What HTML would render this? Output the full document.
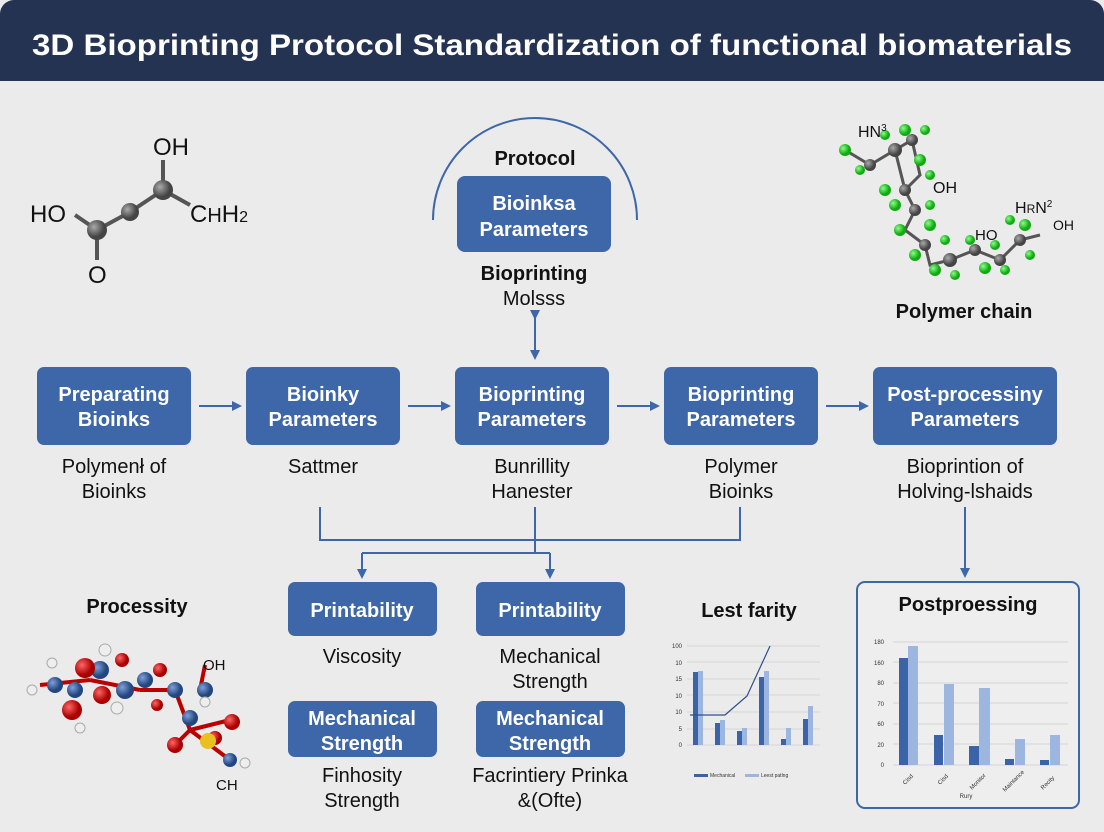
<!DOCTYPE html>
<html><head><meta charset="utf-8"><style>
html,body{margin:0;padding:0;background:#ebebeb}
svg{display:block}
text{font-family:"Liberation Sans",sans-serif}
</style></head><body>
<svg width="1104" height="832" viewBox="0 0 1104 832" xmlns="http://www.w3.org/2000/svg">
<defs>
<marker id="ar" markerWidth="10" markerHeight="10" refX="8" refY="5" orient="auto" markerUnits="userSpaceOnUse"><path d="M0,0 L10,5 L0,10 z" fill="#3d67a8"/></marker>
<radialGradient id="gg" cx="35%" cy="35%"><stop offset="0" stop-color="#aaa"/><stop offset="1" stop-color="#444"/></radialGradient>
<radialGradient id="gr" cx="35%" cy="35%"><stop offset="0" stop-color="#f66"/><stop offset="1" stop-color="#a00"/></radialGradient>
<radialGradient id="gb" cx="35%" cy="35%"><stop offset="0" stop-color="#7fa0d8"/><stop offset="1" stop-color="#23467f"/></radialGradient>
<radialGradient id="gn" cx="35%" cy="35%"><stop offset="0" stop-color="#8f8"/><stop offset="1" stop-color="#1a1"/></radialGradient>
</defs>
<rect width="1104" height="832" fill="#ebebeb"/>
<rect x="0" y="0" width="1104" height="81" rx="14" fill="#243352"/>
<rect x="0" y="40" width="1104" height="41" fill="#243352"/>
<text x="552" y="55" text-anchor="middle" font-size="30" font-weight="bold" fill="#fff" textLength="1040" lengthAdjust="spacingAndGlyphs">3D Bioprinting Protocol Standardization of functional biomaterials</text>

<!-- left molecule -->
<g stroke="#555" stroke-width="4">
<line x1="97" y1="230" x2="130" y2="212"/><line x1="130" y1="212" x2="163" y2="190"/>
<line x1="163" y1="190" x2="190" y2="205"/>
<line x1="97" y1="230" x2="97" y2="260"/><line x1="163" y1="190" x2="163" y2="160"/>
<line x1="97" y1="230" x2="75" y2="215"/>
</g>
<circle cx="97" cy="230" r="10" fill="url(#gg)"/><circle cx="130" cy="212" r="9" fill="url(#gg)"/><circle cx="163" cy="190" r="10" fill="url(#gg)"/>
<text x="153" y="155" font-size="24" fill="#111">OH</text>
<text x="30" y="222" font-size="24" fill="#111">HO</text>
<text x="88" y="283" font-size="24" fill="#111">O</text>
<text x="190" y="222" font-size="24" fill="#111">C<tspan font-size="20">H</tspan>H<tspan font-size="16">2</tspan></text>

<!-- protocol arc -->
<path d="M433,220 A102,102 0 0 1 637,220" fill="none" stroke="#3d67a8" stroke-width="2"/>
<text x="535" y="165" text-anchor="middle" font-size="20" font-weight="bold" fill="#111">Protocol</text>
<rect x="457" y="176" width="154" height="76" rx="8" fill="#3d67a8"/>
<text x="534" y="210" text-anchor="middle" font-size="20" font-weight="bold" fill="#fff">Bioinksa</text>
<text x="534" y="236" text-anchor="middle" font-size="20" font-weight="bold" fill="#fff">Parameters</text>
<text x="534" y="280" text-anchor="middle" font-size="20" font-weight="bold" fill="#111">Bioprinting</text>
<text x="534" y="305" text-anchor="middle" font-size="20" fill="#111">Molsss</text>
<line x1="535" y1="318" x2="535" y2="358" stroke="#3d67a8" stroke-width="2" marker-end="url(#ar)" marker-start="url(#ar)"/>

<!-- right molecule -->
<g stroke="#555" stroke-width="3" fill="none">
<path d="M845,150 L870,165 L895,150 L912,140 L920,175 L905,190 L915,210 L905,230 L925,245 L930,265 L950,260 L975,250 L1000,260 L1020,240 L1040,235"/>
<path d="M895,150 L905,190"/>
</g>
<g fill="url(#gn)">
<circle cx="845" cy="150" r="6"/><circle cx="860" cy="170" r="5"/><circle cx="885" cy="135" r="5"/><circle cx="905" cy="130" r="6"/><circle cx="925" cy="130" r="5"/><circle cx="920" cy="160" r="6"/><circle cx="930" cy="175" r="5"/><circle cx="885" cy="190" r="6"/><circle cx="895" cy="205" r="6"/><circle cx="930" cy="205" r="5"/><circle cx="900" cy="230" r="6"/><circle cx="930" cy="225" r="6"/><circle cx="915" cy="255" r="6"/><circle cx="945" cy="240" r="5"/><circle cx="935" cy="270" r="6"/><circle cx="955" cy="275" r="5"/><circle cx="970" cy="240" r="5"/><circle cx="985" cy="268" r="6"/><circle cx="1005" cy="270" r="5"/><circle cx="995" cy="245" r="5"/><circle cx="1025" cy="225" r="6"/><circle cx="1030" cy="255" r="5"/><circle cx="1010" cy="220" r="5"/>
</g>
<g fill="url(#gg)">
<circle cx="870" cy="165" r="6"/><circle cx="895" cy="150" r="7"/><circle cx="912" cy="140" r="6"/><circle cx="905" cy="190" r="6"/><circle cx="915" cy="210" r="6"/><circle cx="925" cy="245" r="6"/><circle cx="950" cy="260" r="7"/><circle cx="975" cy="250" r="6"/><circle cx="1000" cy="260" r="6"/><circle cx="1020" cy="240" r="6"/>
</g>
<text x="858" y="137" font-size="16" fill="#111">HN<tspan font-size="10" dy="-6">3</tspan></text>
<text x="933" y="193" font-size="16" fill="#111">OH</text>
<text x="1015" y="213" font-size="16" fill="#111">H<tspan font-size="12">R</tspan>N<tspan font-size="10" dy="-6">2</tspan></text>
<text x="975" y="240" font-size="15" fill="#111">HO</text>
<text x="1053" y="230" font-size="14" fill="#111">OH</text>
<text x="964" y="318" text-anchor="middle" font-size="20" font-weight="bold" fill="#111">Polymer chain</text>

<!-- main row -->
<g fill="#3d67a8">
<rect x="37" y="367" width="154" height="78" rx="7"/>
<rect x="246" y="367" width="154" height="78" rx="7"/>
<rect x="455" y="367" width="154" height="78" rx="7"/>
<rect x="664" y="367" width="154" height="78" rx="7"/>
<rect x="873" y="367" width="184" height="78" rx="7"/>
</g>
<g font-size="20" font-weight="bold" fill="#fff" text-anchor="middle">
<text x="114" y="401">Preparating</text><text x="114" y="426">Bioinks</text>
<text x="323" y="401">Bioinky</text><text x="323" y="426">Parameters</text>
<text x="532" y="401">Bioprinting</text><text x="532" y="426">Parameters</text>
<text x="741" y="401">Bioprinting</text><text x="741" y="426">Parameters</text>
<text x="965" y="401">Post-processiny</text><text x="965" y="426">Parameters</text>
</g>
<g font-size="20" fill="#111" text-anchor="middle">
<text x="114" y="473">Polymenł of</text><text x="114" y="498">Bioinks</text>
<text x="323" y="473">Sattmer</text>
<text x="532" y="473">Bunrillity</text><text x="532" y="498">Hanester</text>
<text x="741" y="473">Polymer</text><text x="741" y="498">Bioinks</text>
<text x="965" y="473">Bioprintion of</text><text x="965" y="498">Holving-lshaids</text>
</g>
<g stroke="#3d67a8" stroke-width="2">
<line x1="199" y1="406" x2="240" y2="406" marker-end="url(#ar)"/>
<line x1="408" y1="406" x2="449" y2="406" marker-end="url(#ar)"/>
<line x1="617" y1="406" x2="658" y2="406" marker-end="url(#ar)"/>
<line x1="826" y1="406" x2="867" y2="406" marker-end="url(#ar)"/>
<polyline points="320,507 320,540 740,540 740,507" fill="none"/>
<line x1="535" y1="507" x2="535" y2="553"/>
<line x1="362" y1="553" x2="550" y2="553"/>
<line x1="362" y1="553" x2="362" y2="577" marker-end="url(#ar)"/>
<line x1="550" y1="553" x2="550" y2="577" marker-end="url(#ar)"/>
<line x1="965" y1="507" x2="965" y2="576" marker-end="url(#ar)"/>
</g>

<!-- second row -->
<g fill="#3d67a8">
<rect x="288" y="582" width="149" height="54" rx="7"/>
<rect x="476" y="582" width="149" height="54" rx="7"/>
<rect x="288" y="701" width="149" height="56" rx="7"/>
<rect x="476" y="701" width="149" height="56" rx="7"/>
</g>
<g font-size="20" font-weight="bold" fill="#fff" text-anchor="middle">
<text x="362" y="617">Printability</text><text x="550" y="617">Printability</text>
<text x="362" y="725">Mechanical</text><text x="362" y="750">Strength</text>
<text x="550" y="725">Mechanical</text><text x="550" y="750">Strength</text>
</g>
<g font-size="20" fill="#111" text-anchor="middle">
<text x="362" y="663">Viscosity</text>
<text x="550" y="663">Mechanical</text><text x="550" y="688">Strength</text>
<text x="362" y="782">Finhosity</text><text x="362" y="807">Strength</text>
<text x="550" y="782">Facrintiery Prinka</text><text x="550" y="807">&amp;(Ofte)</text>
</g>

<!-- bottom left molecule -->
<text x="137" y="613" text-anchor="middle" font-size="20" font-weight="bold" fill="#111">Processity</text>
<g stroke="#b00" stroke-width="4">
<line x1="40" y1="685" x2="90" y2="680"/><line x1="90" y1="680" x2="140" y2="690"/><line x1="140" y1="690" x2="175" y2="690"/><line x1="175" y1="690" x2="190" y2="730"/><line x1="190" y1="730" x2="175" y2="745"/><line x1="190" y1="730" x2="230" y2="720"/><line x1="190" y1="730" x2="230" y2="760"/><line x1="200" y1="690" x2="205" y2="665"/>
</g>
<g fill="url(#gb)">
<circle cx="55" cy="685" r="8"/><circle cx="75" cy="690" r="8"/><circle cx="100" cy="670" r="9"/><circle cx="125" cy="690" r="9"/><circle cx="145" cy="680" r="8"/><circle cx="175" cy="690" r="8"/><circle cx="205" cy="690" r="8"/><circle cx="190" cy="718" r="8"/><circle cx="230" cy="760" r="7"/>
</g>
<g fill="url(#gr)">
<circle cx="85" cy="668" r="10"/><circle cx="72" cy="710" r="10"/><circle cx="122" cy="660" r="7"/><circle cx="102" cy="695" r="9"/><circle cx="160" cy="670" r="7"/><circle cx="157" cy="705" r="6"/><circle cx="175" cy="745" r="8"/><circle cx="232" cy="722" r="8"/><circle cx="215" cy="738" r="7"/>
</g>
<g fill="#eee" stroke="#aaa">
<circle cx="32" cy="690" r="5"/><circle cx="52" cy="663" r="5"/><circle cx="105" cy="650" r="6"/><circle cx="117" cy="708" r="6"/><circle cx="80" cy="728" r="5"/><circle cx="205" cy="702" r="5"/><circle cx="245" cy="763" r="5"/>
</g>
<circle cx="208" cy="741" r="8" fill="#e8c020"/>
<text x="203" y="670" font-size="15" fill="#111">OH</text>
<text x="216" y="790" font-size="15" fill="#111">CH</text>

<!-- chart 1 -->
<text x="749" y="617" text-anchor="middle" font-size="20" font-weight="bold" fill="#111">Lest farity</text>
<g stroke="#d4d4d4" stroke-width="1">
<line x1="687" y1="646" x2="820" y2="646"/><line x1="687" y1="662" x2="820" y2="662"/><line x1="687" y1="679" x2="820" y2="679"/><line x1="687" y1="695" x2="820" y2="695"/><line x1="687" y1="712" x2="820" y2="712"/><line x1="687" y1="729" x2="820" y2="729"/><line x1="687" y1="745" x2="820" y2="745"/>
</g>
<g font-size="6" fill="#333" text-anchor="end"><text x="682" y="648">100</text><text x="682" y="665">10</text><text x="682" y="681">15</text><text x="682" y="698">10</text><text x="682" y="714">10</text><text x="682" y="731">5</text><text x="682" y="747">0</text></g>
<g fill="#3a63a8"><rect x="693" y="672" width="5" height="73"/><rect x="715" y="723" width="5" height="22"/><rect x="737" y="731" width="5" height="14"/><rect x="759" y="677" width="5" height="68"/><rect x="781" y="739" width="5" height="6"/><rect x="803" y="719" width="5" height="26"/></g>
<g fill="#9db6e0"><rect x="698" y="671" width="5" height="74"/><rect x="720" y="720" width="5" height="25"/><rect x="742" y="728" width="5" height="17"/><rect x="764" y="671" width="5" height="74"/><rect x="786" y="728" width="5" height="17"/><rect x="808" y="706" width="5" height="39"/></g>
<polyline points="690,715 725,715 747,696 770,646" fill="none" stroke="#2e4f8a" stroke-width="1.2"/>
<rect x="694" y="774" width="14" height="3" fill="#3a63a8"/><text x="710" y="777" font-size="5" fill="#333">Mechanical</text>
<rect x="745" y="774" width="14" height="3" fill="#9db6e0"/><text x="761" y="777" font-size="5" fill="#333">Leest patlng</text>

<!-- postprocessing panel -->
<rect x="857" y="582" width="222" height="226" rx="8" fill="#eeeeee" stroke="#3d67a8" stroke-width="2"/>
<text x="968" y="611" text-anchor="middle" font-size="20" font-weight="bold" fill="#111">Postproessing</text>
<g stroke="#d4d4d4"><line x1="893" y1="642" x2="1068" y2="642"/><line x1="893" y1="662" x2="1068" y2="662"/><line x1="893" y1="683" x2="1068" y2="683"/><line x1="893" y1="703" x2="1068" y2="703"/><line x1="893" y1="724" x2="1068" y2="724"/><line x1="893" y1="744" x2="1068" y2="744"/><line x1="893" y1="765" x2="1068" y2="765"/></g>
<g font-size="6" fill="#333" text-anchor="end"><text x="884" y="644">180</text><text x="884" y="665">160</text><text x="884" y="685">80</text><text x="884" y="706">70</text><text x="884" y="726">60</text><text x="884" y="747">20</text><text x="884" y="767">0</text></g>
<g fill="#3a63a8"><rect x="899" y="658" width="9" height="107"/><rect x="934" y="735" width="9" height="30"/><rect x="969" y="746" width="10" height="19"/><rect x="1005" y="759" width="9" height="6"/><rect x="1040" y="760" width="9" height="5"/></g>
<g fill="#9db6e0"><rect x="908" y="646" width="10" height="119"/><rect x="944" y="684" width="10" height="81"/><rect x="979" y="688" width="11" height="77"/><rect x="1015" y="739" width="10" height="26"/><rect x="1050" y="735" width="10" height="30"/></g>
<g font-size="6" fill="#333"><text x="905" y="785" transform="rotate(-45 905 785)">Cisd</text><text x="940" y="785" transform="rotate(-45 940 785)">Cisd</text><text x="972" y="790" transform="rotate(-45 972 790)">Monitor</text><text x="1005" y="792" transform="rotate(-45 1005 792)">Maintance</text><text x="1043" y="790" transform="rotate(-45 1043 790)">Recity</text><text x="966" y="798" text-anchor="middle">Rury</text></g>
</svg>
</body></html>
